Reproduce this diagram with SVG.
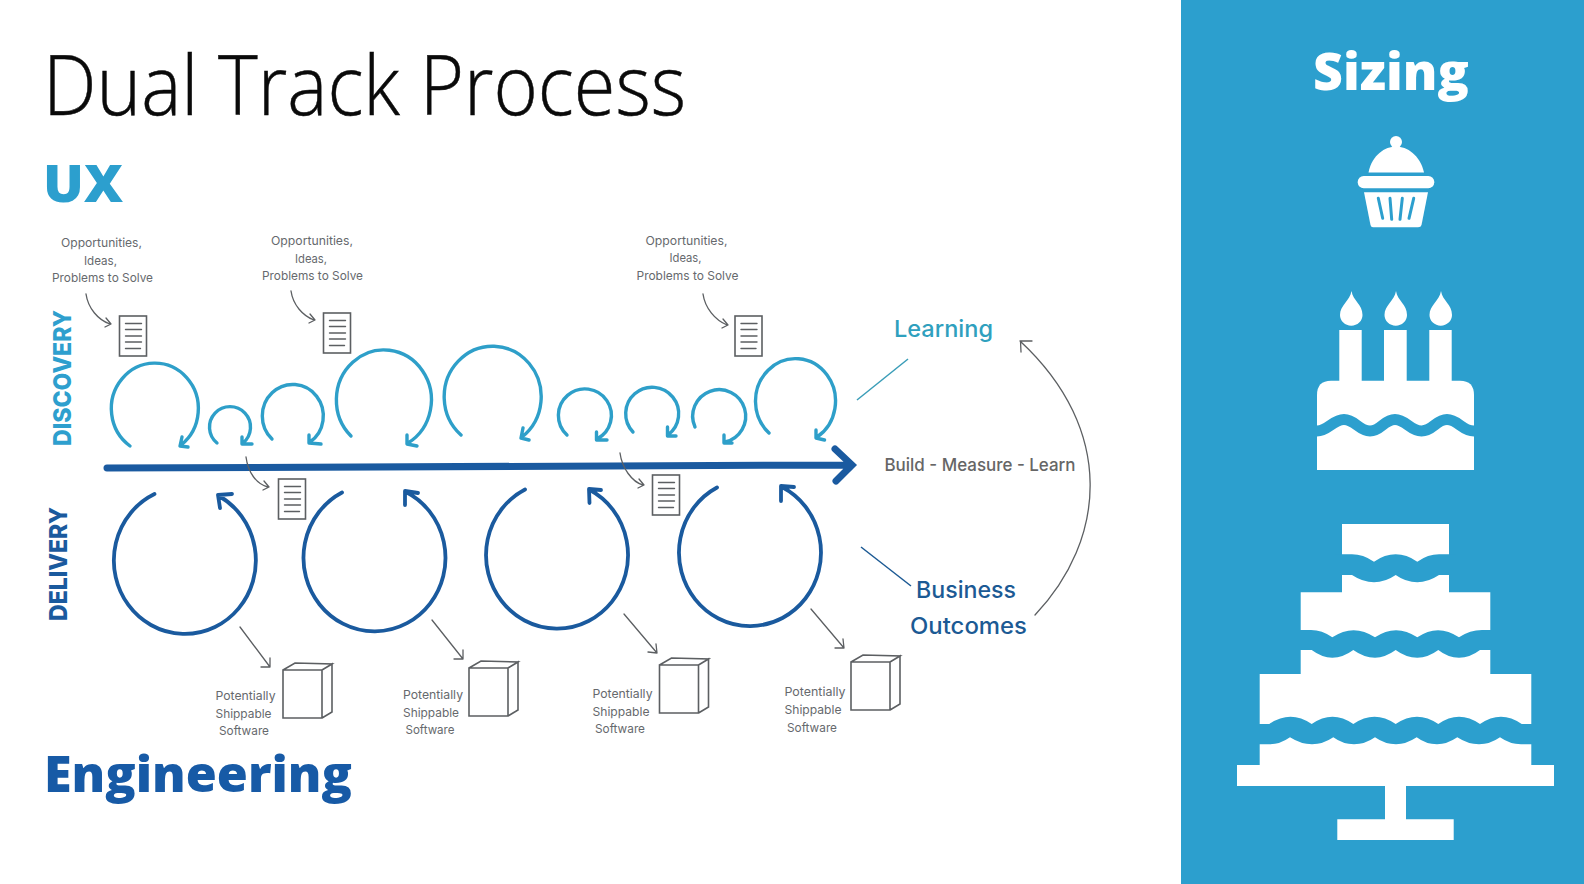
<svg xmlns="http://www.w3.org/2000/svg" width="1584" height="884" viewBox="0 0 1584 884">
<style>
.sans{font-family:"Inter","Liberation Sans",sans-serif}
.lbl{font-family:"Inter","Liberation Sans",sans-serif;font-size:12px;fill:#66696d}
.head{font-family:"Open Sans","Liberation Sans",sans-serif;font-weight:800}
.disc{fill:none;stroke:#2e9fc9;stroke-width:3.4;stroke-linecap:round;stroke-linejoin:round}
.del{fill:none;stroke:#1a5a9e;stroke-width:3.8;stroke-linecap:round;stroke-linejoin:round}
.thin{fill:none;stroke:#5c5f62;stroke-width:1.3;stroke-linecap:round;stroke-linejoin:round}
.icon{fill:#fff;stroke:#5c5f62;stroke-width:1.6}
.wh{fill:#fff}
.bl{fill:#2c9fce}
</style>
<defs>
<g id="doc"><rect class="icon" x="0" y="0" width="27" height="40"/><path class="thin" style="stroke-width:1.4" d="M6 7.5H22M6 13.5H22M6 20H22M6 26H22M6 32.5H21"/></g>
<g id="box"><path class="icon" d="M0 7L12 0L49 1L39 7H0V55H39V7M39 7L49 1V49L39 55"/></g>
</defs>
<rect width="1584" height="884" fill="#fff"/>
<rect x="1181" y="0" width="403" height="884" fill="#2c9fce"/>

<g id="title"><text x="43" y="115" font-size="83" font-family="Open Sans, Liberation Sans, sans-serif" font-weight="300" fill="#0a0a0a" stroke="#0a0a0a" stroke-width="0.5" textLength="643" lengthAdjust="spacingAndGlyphs">Dual Track Process</text></g>
<g id="ux"><text class="head" x="43" y="202" font-size="52" fill="#2c9fce" textLength="80" lengthAdjust="spacingAndGlyphs">UX</text></g>
<g id="engineering"><text class="head" x="44" y="792" font-size="50" fill="#175aa6" textLength="308" lengthAdjust="spacingAndGlyphs">Engineering</text></g>
<g id="sizing"><text class="head" x="1313" y="90" font-size="52" fill="#fff" textLength="156" lengthAdjust="spacingAndGlyphs">Sizing</text></g>

<g id="discovery-label"><text class="sans" transform="translate(71,446) rotate(-90)" font-size="25" font-weight="800" fill="#2e9fce" textLength="136" lengthAdjust="spacingAndGlyphs">DISCOVERY</text></g>
<g id="delivery-label"><text class="sans" transform="translate(67,621) rotate(-90)" font-size="25" font-weight="800" fill="#1a5a9e" textLength="114" lengthAdjust="spacingAndGlyphs">DELIVERY</text></g>

<g id="connectors">
<path class="disc" d="M130 446A43.500 45.500 0 1 1 181 445M182 437L180 446L188 447"/>
<path class="disc" d="M217 443A20.500 20.500 0 1 1 243 443M242 437L242 444L252 444"/>
<path class="disc" d="M272 439A30.500 31.500 0 1 1 310 442M309 435L309 443L321 444"/>
<path class="disc" d="M351 436A47.500 50 0 1 1 408 443M407 435L407 444L417 446"/>
<path class="disc" d="M461 435A48.500 50.500 0 1 1 522 437M523 428L521 438L529 440"/>
<path class="disc" d="M567 435A26.500 26.500 0 1 1 597 439M596.500 432L596.500 440L607 440"/>
<path class="disc" d="M633 432A26.500 26.500 0 1 1 668 435M667.500 427L667.500 436L676 436"/>
<path class="disc" d="M695 427A26.500 26.500 0 1 1 725 442M724 435L724 443L732 443"/>
<path class="disc" d="M769 433A40 42.500 0 1 1 817 437M816 430L816 438L824.500 440"/>

<path d="M107 468L851 465M835 449L852 465L836 481" fill="none" stroke="#1a5aa0" stroke-width="7" stroke-linecap="round" stroke-linejoin="miter"/>

<path class="del" d="M154.500 494A71 73.500 0 1 0 219 496M220 508L218 495L232 494"/>
<path class="del" d="M342 492.500A71 73.500 0 1 0 406 492M405 505L405 491L418 493"/>
<path class="del" d="M525 489.500A71 73.500 0 1 0 590 490M589.500 503L589 489L601 490"/>
<path class="del" d="M717 487.500A71 73.500 0 1 0 782 487M781 501L781 486L794 487"/>

<path class="thin" d="M86 294C88 308 98 320 110 324M106 318L111 324L105 327"/>
<path class="thin" d="M291 291C293 305 303 316 314 320M310 314L315 320L309 323"/>
<path class="thin" d="M703 294C705 308 715 320 727 325M723 319L728 325L722 328"/>
<path class="thin" d="M246 457C248 472 256 484 268 487M264 481L269 487L263 490"/>
<path class="thin" d="M620 453C622 468 632 482 643 485M639 479L644 485L638 488"/>
<path class="thin" d="M240 627L270 667M261 667L270 667L270 658"/>
<path class="thin" d="M432 620L463 659M454 659L463 659L463 650"/>
<path class="thin" d="M624 614L657 653M648 652L657 653L656 644"/>
<path class="thin" d="M811 609L844 648M835 648L844 648L843 639"/>

<path d="M857 400L908 359" fill="none" stroke="#3a9db8" stroke-width="1.5"/>
<path d="M861 547L911 586" fill="none" stroke="#1c5a94" stroke-width="1.5"/>
<path class="thin" d="M1035 615C1106 540 1116 430 1020 341M1032 341L1020.500 341L1021 352"/>
</g>

<g id="opportunities-1"><use href="#doc" x="119.500" y="316"/>
<text class="lbl" x="61" y="247" textLength="81" lengthAdjust="spacingAndGlyphs">Opportunities,</text><text class="lbl" x="84" y="264.500" textLength="33" lengthAdjust="spacingAndGlyphs">Ideas,</text><text class="lbl" x="52" y="282" textLength="101" lengthAdjust="spacingAndGlyphs">Problems to Solve</text></g>
<g id="opportunities-2"><use href="#doc" x="323.500" y="313"/>
<text class="lbl" x="271" y="245" textLength="82" lengthAdjust="spacingAndGlyphs">Opportunities,</text><text class="lbl" x="295" y="262.500" textLength="32" lengthAdjust="spacingAndGlyphs">Ideas,</text><text class="lbl" x="262" y="280" textLength="101" lengthAdjust="spacingAndGlyphs">Problems to Solve</text></g>
<g id="opportunities-3"><use href="#doc" x="735" y="316"/>
<text class="lbl" x="645.500" y="245" textLength="82" lengthAdjust="spacingAndGlyphs">Opportunities,</text><text class="lbl" x="669.500" y="262" textLength="32" lengthAdjust="spacingAndGlyphs">Ideas,</text><text class="lbl" x="636.500" y="280" textLength="102" lengthAdjust="spacingAndGlyphs">Problems to Solve</text></g>
<g id="doc-4"><use href="#doc" x="278.500" y="479"/></g>
<g id="doc-5"><use href="#doc" x="652.500" y="475"/></g>

<g id="software-1"><use href="#box" x="283" y="663"/>
<text class="lbl" x="215.500" y="700" textLength="60" lengthAdjust="spacingAndGlyphs">Potentially</text><text class="lbl" x="215.500" y="718" textLength="56" lengthAdjust="spacingAndGlyphs">Shippable</text><text class="lbl" x="219" y="735" textLength="50" lengthAdjust="spacingAndGlyphs">Software</text></g>
<g id="software-2"><use href="#box" x="469" y="661"/>
<text class="lbl" x="403" y="699" textLength="60" lengthAdjust="spacingAndGlyphs">Potentially</text><text class="lbl" x="403" y="716.500" textLength="56" lengthAdjust="spacingAndGlyphs">Shippable</text><text class="lbl" x="405.500" y="734" textLength="49" lengthAdjust="spacingAndGlyphs">Software</text></g>
<g id="software-3"><use href="#box" x="659.500" y="658"/>
<text class="lbl" x="592.500" y="698" textLength="60" lengthAdjust="spacingAndGlyphs">Potentially</text><text class="lbl" x="592.500" y="715.500" textLength="57" lengthAdjust="spacingAndGlyphs">Shippable</text><text class="lbl" x="595" y="733" textLength="50" lengthAdjust="spacingAndGlyphs">Software</text></g>
<g id="software-4"><use href="#box" x="851" y="655"/>
<text class="lbl" x="784.500" y="696" textLength="61" lengthAdjust="spacingAndGlyphs">Potentially</text><text class="lbl" x="784.500" y="714" textLength="57" lengthAdjust="spacingAndGlyphs">Shippable</text><text class="lbl" x="787" y="731.500" textLength="50" lengthAdjust="spacingAndGlyphs">Software</text></g>

<g id="learning"><text class="sans" x="894" y="337" font-size="23" font-weight="500" fill="#2fa0be" textLength="99" lengthAdjust="spacingAndGlyphs">Learning</text></g>
<g id="build-measure-learn"><text class="sans" x="884.500" y="471" font-size="17.500" font-weight="500" fill="#666" textLength="191" lengthAdjust="spacingAndGlyphs">Build - Measure - Learn</text></g>
<g id="business-outcomes"><text class="sans" x="916" y="598" font-size="23" font-weight="500" fill="#1c5a94" textLength="100" lengthAdjust="spacingAndGlyphs">Business</text><text class="sans" x="910" y="634" font-size="23" font-weight="500" fill="#1c5a94" textLength="117" lengthAdjust="spacingAndGlyphs">Outcomes</text></g>

<g id="cupcake">
<circle class="wh" cx="1396" cy="142" r="6"/>
<path class="wh" d="M1368.500 172.500C1372 155 1385 146.500 1396 146.500C1407 146.500 1420 155 1424 172.500Z"/>
<rect class="wh" x="1357.700" y="176" width="76.600" height="12.300" rx="6"/>
<path class="wh" d="M1364 192.300H1428L1421.500 225Q1421 227.300 1418 227.300H1373Q1371 227.300 1370.500 225Z"/>
<path d="M1378.300 198.300L1382.700 218.300M1390 198.300L1391.700 219.300M1402.300 198.300L1400 219.300M1413.700 198.300L1409 218.300" fill="none" stroke="#2c9fce" stroke-width="3" stroke-linecap="round"/>
</g>

<g id="birthday-cake">
<path class="wh" d="M1351.500 291C1353 301 1362.500 304 1362.500 315A11 10.500 0 0 1 1340 315C1340 305 1350 301 1351.500 291Z"/>
<path class="wh" d="M1396 291C1397.500 301 1407 304 1407 315A11 10.500 0 0 1 1384.500 315C1384.500 305 1394.500 301 1396 291Z"/>
<path class="wh" d="M1441 291C1442.500 301 1452 304 1452 315A11 10.500 0 0 1 1429.500 315C1429.500 305 1439.500 301 1441 291Z"/>
<rect class="wh" x="1339.300" y="330" width="22.400" height="52"/>
<rect class="wh" x="1384" y="330" width="22.700" height="52"/>
<rect class="wh" x="1429.300" y="330" width="22.400" height="52"/>
<path class="wh" d="M1331 380.700H1460Q1474 380.700 1474 395V470H1317V395Q1317 380.700 1331 380.700Z"/>
<path d="M1310 431H1317C1328 431 1333 419.500 1344 419.500S1359 431 1370 431S1384 419.500 1395 419.500S1410 431 1421.500 431S1436 419.500 1447 419.500S1462 431 1474 431H1480" fill="none" stroke="#2c9fce" stroke-width="11"/>
</g>

<g id="tiered-cake">
<path class="wh" d="M1342 524H1449V592.300H1490.300V674H1531.300V765H1554V786H1406V819.300H1453.700V840H1337.300V819.300H1385V786H1237V765H1259.700V674H1300.700V592.300H1342Z"/>
<path class="bl" d="M1335 554.300H1352Q1363 554.300 1374 561.700Q1395.700 547 1417.300 561.700Q1428 554.300 1439 554.300H1456V575H1439Q1428 582.300 1417.300 582.300Q1406 582.300 1395.700 575Q1385 582.300 1374 582.300Q1363 582.300 1352 575H1335Z"/>
<path class="bl" d="M1294 630H1311Q1322 630 1332.300 637.300Q1353.600 623 1375 637.300Q1396 623 1417.300 637.300Q1438 623 1459 637.300Q1470 630 1482 630H1497V650H1480Q1470 657.700 1459 657.700Q1448 657.700 1438.300 650Q1428 657.700 1417.300 657.700Q1406 657.700 1395.700 650Q1385 657.700 1375 657.700Q1364 657.700 1353.300 650Q1343 657.700 1332.300 657.700Q1322 657.700 1311.700 650H1294Z"/>
<path class="bl" d="M1250 724H1269.300Q1290.500 709.500 1311.700 724Q1332.500 709.500 1353.300 724Q1374.500 709.500 1395.700 724Q1417 709.500 1438.300 724Q1459 709.500 1480 724Q1501 709.500 1521.700 724H1540V744.300H1521Q1510 744.300 1500 737.300Q1490 744.300 1479 744.300Q1468 744.300 1457.300 737.300Q1447 744.300 1437 744.300Q1426 744.300 1416.700 737.300Q1406 744.300 1396 744.300Q1385 744.300 1375 737.300Q1365 744.300 1354 744.300Q1343 744.300 1333.300 737.300Q1323 744.300 1312 744.300Q1301 744.300 1290 737.300Q1280 744.300 1270 744.300H1250Z"/>
</g>
</svg>
